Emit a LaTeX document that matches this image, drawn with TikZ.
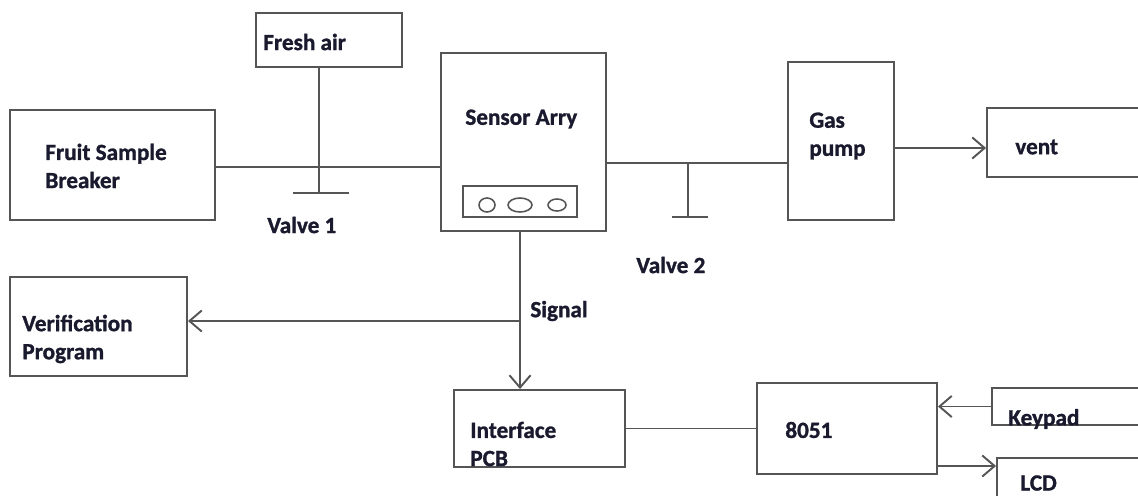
\documentclass[tikz,border=0pt]{standalone}
\usepackage{fontspec}
\setmainfont{Carlito}[BoldFont={Carlito Bold}, BoldFeatures={FakeBold=1.2}]
\usetikzlibrary{arrows.meta}
\definecolor{wire}{HTML}{555555}
\definecolor{ink}{HTML}{1A1A2E}
\tikzset{
  blk/.style={draw=wire, line width=1.1pt, rectangle, inner sep=0pt},
  lbl/.style={font=\bfseries\fontsize{13.2}{16}\selectfont, text=ink, align=left, anchor=west, inner sep=0pt},
  pipe/.style={draw=wire, line width=1.1pt},
}
\begin{document}
\begin{tikzpicture}[x=0.02cm, y=-0.02cm, >={Straight Barb[length=7pt,width=12pt]}]
\useasboundingbox (0,0) rectangle (1138,496);
\clip (0,0) rectangle (1138,496);
% blocks
\node[blk, minimum width=146*0.02cm, minimum height=54*0.02cm] (fresh) at (329,40) {};
\node[blk, minimum width=205*0.02cm, minimum height=110*0.02cm] (fruit) at (112.5,165) {};
\node[blk, minimum width=165*0.02cm, minimum height=178*0.02cm] (sensor) at (523.5,142) {};
\node[blk, minimum width=114*0.02cm, minimum height=31*0.02cm] (tray) at (520,201.5) {};
\node[blk, minimum width=106*0.02cm, minimum height=158*0.02cm] (pump) at (841,141) {};
\node[blk, minimum width=170*0.02cm, minimum height=69*0.02cm] (vent) at (1072,142.5) {};
\node[blk, minimum width=177*0.02cm, minimum height=99*0.02cm] (verif) at (98.5,326.5) {};
\node[blk, minimum width=171*0.02cm, minimum height=77*0.02cm] (pcb) at (539.5,428.5) {};
\node[blk, minimum width=180*0.02cm, minimum height=91*0.02cm] (mcu) at (847,428.5) {};
\node[blk, minimum width=170*0.02cm, minimum height=37*0.02cm] (keypad) at (1077,406.5) {};
\node[blk, minimum width=170*0.02cm, minimum height=50*0.02cm] (lcd) at (1082,483) {};
% sensor heads
\draw[pipe, line width=0.9pt] (487,205) ellipse (8 and 7);
\draw[pipe, line width=0.9pt] (520,205) ellipse (12 and 7);
\draw[pipe, line width=0.9pt] (557,205) ellipse (9 and 6);
% texts
\node[lbl] (tfresh) at (263,42) {Fresh air};
\node[lbl] (tfruit) at (45,166) {Fruit Sample\\Breaker};
\node[lbl] (tsensor) at (465,119) {Sensor Arry};
\node[lbl] (tpump) at (809,136) {Gas\\pump};
\node[lbl] (tvent) at (1015,147) {vent};
\node[lbl] (tverif) at (22,339) {Verification\\Program};
\node[lbl] (tpcb) at (470,444) {Interface\\PCB};
\node[lbl] (tmcu) at (785,430) {8051};
\node[lbl] (tkey) at (1008,419) {Keypad};
\node[lbl] (tlcd) at (1020,483) {LCD};
\node[lbl] (tv1) at (267,225) {Valve 1};
\node[lbl] (tv2) at (636,265) {Valve 2};
\node[lbl] (tsig) at (530,311) {Signal};
% junctions
\coordinate (v1) at (319,167);
\coordinate (v2) at (688,163);
\coordinate (sig) at (520,321);
% gas path
\draw[pipe] (fruit.east |- v1) -- (v1) -- (sensor.west |- v1);
\draw[pipe] (fresh.south -| v1) -- (319,193);
\draw[pipe] (293,193) -- (349,193);
\draw[pipe] (sensor.east |- v2) -- (v2) -- (pump.west |- v2);
\draw[pipe] (v2) -- (688,217);
\draw[pipe] (672,217) -- (708,217);
\draw[pipe, ->] (pump.east |- 0,148) -- (vent.west |- 0,148);
% signal path
\draw[pipe, ->] (sensor.south -| sig) -- (pcb.north -| sig);
\draw[pipe, ->] (sig) -- (verif.east |- sig);
\draw[pipe] (pcb.east) -- (mcu.west |- pcb.east);
\draw[pipe, ->] (keypad.west) -- (mcu.east |- keypad.west);
\draw[pipe, ->] (mcu.east |- 0,466) -- (lcd.west |- 0,466);
\end{tikzpicture}
\end{document}
